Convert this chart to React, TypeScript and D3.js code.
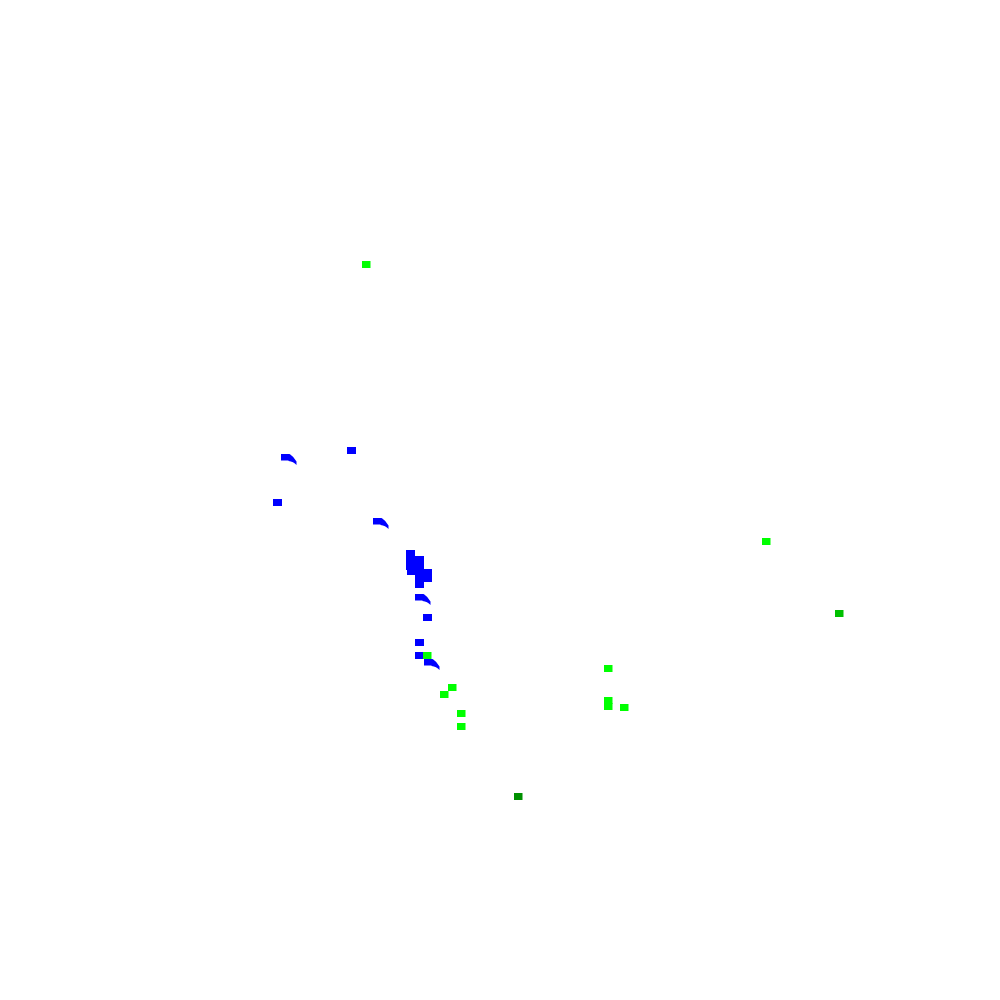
import React from "react";
import * as d3 from "d3";

const blueX = [347, 273, 423, 415, 415, 406, 406, 406, 407, 415, 415, 415, 415, 415, 423, 423];
const blueY = [447, 499, 614, 639, 652, 550, 557, 563, 568, 556, 562, 568, 575, 581, 569, 575];
const cometX = [281, 373, 415, 424];
const cometY = [454, 518, 594, 659];
const greenX = [362, 762, 423, 448, 440, 457, 457, 604, 604, 604, 620];
const greenY = [261, 538, 652, 684, 691, 710, 723, 665, 697, 703, 704];
const darkGreenX = [514];
const darkGreenY = [793];
const midGreenX = [835];
const midGreenY = [610];

const W = 1000;
const H = 1000;
const RW = 8.5;
const RH = 7;

export default function App() {
  const x = d3.scaleLinear().domain([0, 1000]).range([0, W]);
  const y = d3.scaleLinear().domain([0, 1000]).range([0, H]);

  const rects = (xs: number[], ys: number[], color: string, key: string, w = RW) =>
    xs.map((v, i) => (
      <rect key={key + i} x={x(v)} y={y(ys[i])} width={w} height={RH} fill={color} />
    ));

  const tail = (px: number, py: number) => {
    const p = d3.path();
    const x0 = px + RW;
    p.moveTo(x0 - 1, py);
    p.lineTo(x0 + 0.5, py + 0.3);
    p.quadraticCurveTo(x0 + 4, py + 2.5, x0 + 7, py + 7.5);
    p.lineTo(x0 + 7, py + 11);
    p.quadraticCurveTo(x0 + 4, py + 7.5, x0 - 1, py + RH);
    p.closePath();
    return p.toString();
  };

  return (
    <svg
      width={W}
      height={H}
      style={{ position: "absolute", left: 0, top: 0, display: "block", background: "#fff" }}
    >
      {rects(blueX, blueY, "#0000ff", "b", 9)}
      {cometX.map((v, i) => (
        <g key={"c" + i}>
          <rect x={x(v)} y={y(cometY[i])} width={RW} height={RH - 0.5} fill="#0000ff" />
          <path d={tail(x(v), y(cometY[i]))} fill="#0000ff" />
        </g>
      ))}
      {rects(greenX, greenY, "#00ff00", "g")}
      {rects(darkGreenX, darkGreenY, "#009000", "dg")}
      {rects(midGreenX, midGreenY, "#00c000", "mg")}
    </svg>
  );
}
